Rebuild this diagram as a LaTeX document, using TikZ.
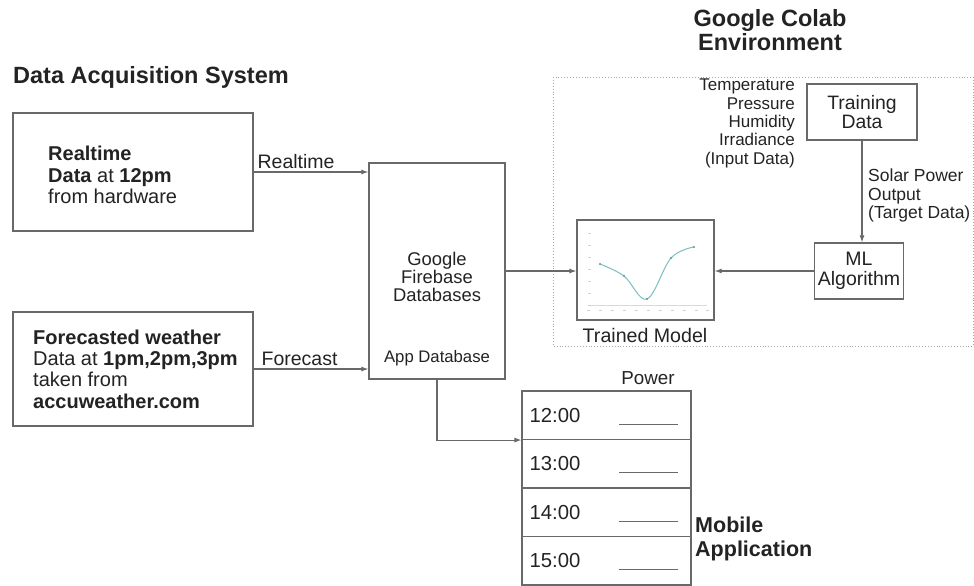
\documentclass[tikz,border=0pt]{standalone}
\usepackage{fontspec}
\setmainfont{Liberation Sans}
\usepackage{tikz}
\usetikzlibrary{arrows.meta, positioning, calc}
\definecolor{linegray}{RGB}{105,105,105}
\definecolor{textgray}{RGB}{35,35,35}
\definecolor{dotgray}{RGB}{165,165,165}
\definecolor{curveteal}{RGB}{125,190,190}
\newcommand{\fsz}[2]{\fontsize{#1}{#2}\selectfont}

\begin{document}
\begin{tikzpicture}[x=1pt, y=-1pt,
  box/.style={rectangle, draw=linegray, line width=1.2pt, fill=white, text=textgray, align=center},
  lbl/.style={text=textgray, inner sep=3pt},
  ttl/.style={text=textgray, font=\bfseries, align=center},
  arr/.style={-{Latex[length=7pt, width=5pt]}, line width=1.1pt, linegray},
  row/.style={rectangle, draw=linegray, line width=1.1pt, minimum width=169pt, minimum height=48.5pt}
]
\useasboundingbox (0,0) rectangle (974,586);

% Google Colab environment frame
\draw[dotgray, line width=0.9pt, dotted] (553,77) rectangle (973,346);
\node[ttl, font=\bfseries\fsz{23.5}{24}] (colab) at (770,30) {Google Colab\\Environment};

% Data acquisition
\node[ttl, font=\bfseries\fsz{23.5}{24}, anchor=west, inner sep=0pt] (acq) at (13,77) {Data Acquisition System};
\node[box, minimum width=240pt, minimum height=118pt] (rtbox) at (133,172) {};
\node[lbl, anchor=west, align=left, inner sep=0pt, font=\fsz{20}{21.3}] (rttext) at (48,175)
  {\textbf{Realtime}\\\textbf{Data} at \textbf{12pm}\\from hardware};
\node[box, minimum width=240pt, minimum height=114pt] (fcbox) at (133,369) {};
\node[lbl, anchor=west, align=left, inner sep=0pt, font=\fsz{20}{21.3}] (fctext) at (33,369)
  {\textbf{Forecasted weather}\\Data at \textbf{1pm,2pm,3pm}\\taken from\\\textbf{accuweather.com}};

% Firebase
\node[box, minimum width=136pt, minimum height=216pt] (fbase) at (437,271) {};
\node[lbl, align=center, inner sep=0pt, font=\fsz{18.4}{18}] (fbtext) at (437,277) {Google\\Firebase\\Databases};
\node[lbl, inner sep=0pt, font=\fsz{16.7}{18}] (appdb) at (437,358) {App Database};

% Model, training, ML
\node[box, minimum width=137pt, minimum height=100pt] (model) at (645.5,270) {};
\node[lbl, font=\fsz{19.6}{20}] (mdltext) at (645,335) {Trained Model};
\node[box, minimum width=110pt, minimum height=56pt, font=\fsz{19.4}{19}] (train) at (862,112) {Training\\Data};
\node[box, minimum width=88pt, minimum height=56pt, font=\fsz{19.5}{20}] (mlalg) at (859,271) {ML\\Algorithm};
\node[lbl, anchor=east, align=right, inner sep=0pt, font=\fsz{17}{18.3}] (inputs) at (795,123.5)
  {Temperature\\Pressure\\Humidity\\Irradiance\\(Input Data)};
\node[lbl, anchor=west, align=left, inner sep=0pt, font=\fsz{17.5}{18.5}] (target) at (868,195.5)
  {Solar Power\\Output\\(Target Data)};

% chart inside the trained model
\draw[gray!30, line width=0.6pt] (589,305) -- (707,305);
\foreach \tx in {588,600,612,624,636,648,660,672,684,696,707}
  \draw[gray!35, line width=0.6pt] (\tx-1.5,310) -- (\tx+1.5,310);
\foreach \ty in {305,293,281,269,257,245,233}
  \draw[gray!35, line width=0.6pt] (588,\ty) -- (591,\ty);
\draw[curveteal, line width=1pt] plot[smooth, tension=0.6] coordinates {(600,264) (624,276) (647,299) (671,258) (694,247)};
\foreach \px/\py in {600/264, 624/276, 647/299, 671/258, 694/247}
  \fill[curveteal!80!black] (\px,\py) circle (1.2pt);

% Mobile application table
\node[lbl, font=\fsz{18.8}{19}] (power) at (648,378) {Power};
\foreach \t [count=\i] in {12:00,13:00,14:00,15:00} {
  \node[row] (row\i) at ({606.5},{391+48.5*(\i-0.5)}) {};
  \node[lbl, anchor=west, inner sep=0pt, font=\fsz{20.3}{21}] (time\i) at ($(row\i.west)+(8,0)$) {\t};
  \draw[linegray, line width=1pt] ($(row\i.south east)+(-14,-16)$) -- ++(-59,0);
}
\node[ttl, font=\bfseries\fsz{21.5}{24}, anchor=west, align=left, inner sep=0pt] (mobile) at (695,539) {Mobile\\Application};

% connectors
\draw[arr] (rtbox) -- node[lbl, above, pos=0.37, font=\fsz{19.5}{20}] {Realtime} (rtbox -| fbase.west);
\draw[arr] (fcbox) -- node[lbl, above, pos=0.4, font=\fsz{19.5}{20}] {Forecast} (fcbox -| fbase.west);
\draw[arr] (fbase.east) -- (model.west |- fbase.east);
\draw[arr] (train.south) -- (train.south |- mlalg.north);
\draw[arr] (mlalg.west) -- (model.east |- mlalg.west);
\draw[arr] (fbase.south) |- (row1.south west);
\end{tikzpicture}
\end{document}
